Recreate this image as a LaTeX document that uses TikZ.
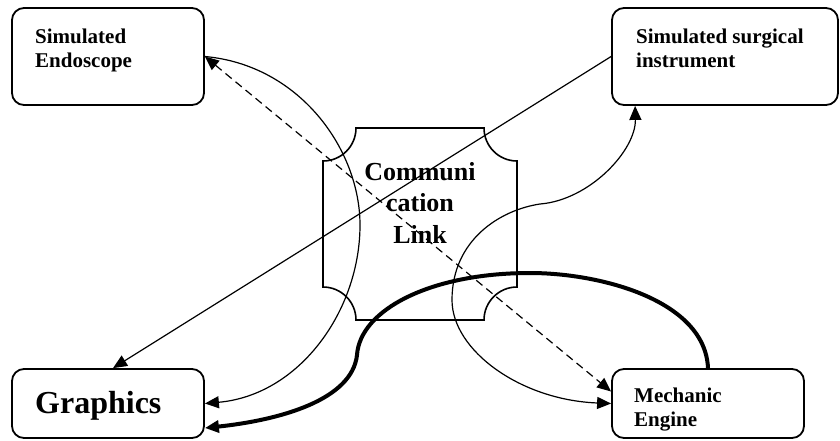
\documentclass[tikz,border=0pt]{standalone}
\usepackage{fontspec}
\setmainfont{Liberation Serif}
\usetikzlibrary{arrows.meta,calc}
\begin{document}
\begin{tikzpicture}[x=1pt,y=-1pt,
  box/.style={draw,line width=1.8pt,rounded corners=12pt,inner sep=0pt},
  boxtext/.style={anchor=base west,inner sep=0pt,align=left,
    font=\fontsize{21}{24.5}\selectfont\bfseries},
  conn/.style={line width=1.2pt},
  tipend/.style={-{Triangle[length=14pt,width=12pt]}},
  tipboth/.style={{Triangle[length=14pt,width=12pt]}-{Triangle[length=14pt,width=12pt]}}
]
\useasboundingbox (0,0) rectangle (840,440);

% the four units
\node[box,minimum width=192pt,minimum height=97pt] (endo)  at (108,56.5) {};
\node[box,minimum width=226pt,minimum height=97pt] (surg)  at (725,56.5) {};
\node[box,minimum width=192pt,minimum height=69pt] (graph) at (108,403.5) {};
\node[box,minimum width=192pt,minimum height=69pt] (mech)  at (708,403.5) {};

% multi-line labels: the base anchor sits on the last line
\node[boxtext] (endotxt) at (35,67.5) {Simulated\\Endoscope};
\node[boxtext] (surgtxt) at (636,67.5) {Simulated surgical\\instrument};
\node[boxtext] (mechtxt) at (634,426.5) {Mechanic\\Engine};
\node[anchor=base west,inner sep=0pt,font=\fontsize{32}{36}\selectfont\bfseries]
  (graphtxt) at (35,413) {Graphics};

% communication link: plaque outline with concave corners
\draw[line width=1.6pt]
  (323,161) .. controls (341.2,161) and (356,146.2) .. (356,128)
  -- (484,128) .. controls (484,146.2) and (498.8,161) .. (517,161)
  -- (517,287) .. controls (498.8,287) and (484,301.8) .. (484,320)
  -- (356,320) .. controls (356,301.8) and (341.2,287) .. (323,287)
  -- cycle;
\node[anchor=base,inner sep=0pt,align=center,
  font=\fontsize{26}{31.5}\selectfont\bfseries] (link) at (420,243)
  {Communi\\cation\\Link};

% connectors
\draw[conn,tipboth,dash pattern=on 8pt off 5pt]
  (endo.east) -- ([yshift=12pt]mech.west);
\draw[conn,tipend] (surg.west) -- ([xshift=5pt]graph.north);
\draw[conn,tipend] (endo.east)
  .. controls (300,65) and (360,150) .. (360,225)
  .. controls (360,310) and (300,395) .. (graph.east);
\draw[conn,tipboth] (mech.west)
  .. controls (520,400) and (452,350) .. (452,300)
  .. controls (452,240) and (500,210) .. (540,204)
  .. controls (590,200) and (636,150) .. ($(surg.south west)+(24,0)$);
\draw[line width=4pt,tipend] (mech.north)
  .. controls (705,300) and (600,273) .. (530,273)
  .. controls (430,273) and (360,310) .. (357,355)
  .. controls (352,400) and (280,420) .. ([yshift=-24.5pt]graph.east);
\end{tikzpicture}
\end{document}
